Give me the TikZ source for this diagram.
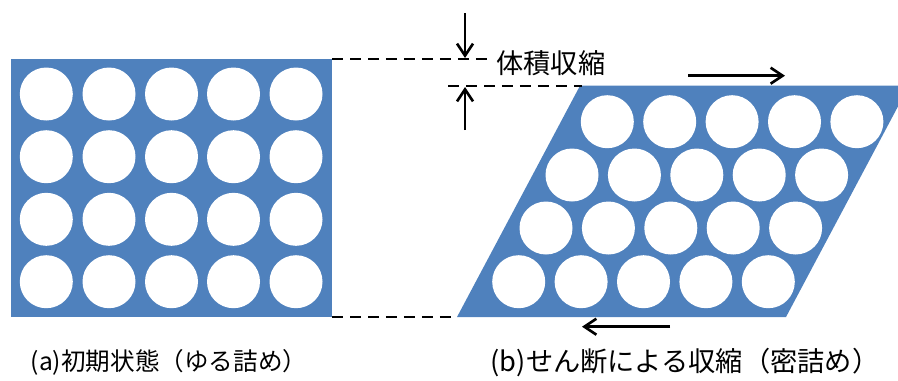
\documentclass[tikz,border=0pt]{standalone}
\usepackage{fontspec}
\setmainfont{Noto Sans CJK JP}
\usetikzlibrary{arrows.meta}
\definecolor{sandblue}{HTML}{4F81BD}
\tikzset{
  grain/.style={fill=white},
  guideline/.style={line width=1.5pt, dash pattern=on 0.22cm off 0.14cm},
  shiftarrow/.style={line width=1.5pt, -{Straight Barb[length=0.24cm,width=0.32cm]}},
  caption/.style={font=\fontsize{14pt}{16pt}\selectfont, inner sep=0pt}
}
\begin{document}
\begin{tikzpicture}[x=0.02cm,y=-0.02cm]
\useasboundingbox (0,0) rectangle (898,380);

% (a) 初期状態：正方配列
\fill[sandblue] (10.5,59) rectangle (332,317); % 試料
\foreach \y in {94,156.7,219.3,281.7}
  \foreach \x in {46.3,109,171.5,233.5,296}
    \fill[grain] (\x,\y) circle (26.5); % 粒子

% (b) せん断後：平行四辺形
\fill[sandblue] (580,85.7) -- (909,85.7) -- (786,317) -- (457,317) -- cycle; % 試料
\foreach \y/\xa in {121.7/607.3, 175/572, 228/546, 281.7/518.7}
  \foreach \i in {0,...,4}
    \fill[grain] (\xa+62.4*\i,\y) circle (26.5); % 粒子

% 寸法線
\coordinate (topL) at (332,59);
\coordinate (topR) at (490,59);
\coordinate (midL) at (448,86);
\coordinate (midR) at (582,86);
\coordinate (botL) at (332,317);
\coordinate (botR) at (457,317);
\draw[guideline] (topL) -- (topR); % 上端（初期）
\draw[guideline] (midL) -- (midR); % 上端（収縮後）
\draw[guideline] (botL) -- (botR); % 下端

% 体積収縮の矢印
\coordinate (downS) at (465,13);
\coordinate (downE) at (465,58);
\coordinate (upS) at (465,130);
\coordinate (upE) at (465,87);
\draw[shiftarrow] (downS) -- (downE);
\draw[shiftarrow] (upS) -- (upE);
\node[caption, font=\fontsize{15.5pt}{18pt}\selectfont, anchor=west] (shrink) at (496,63) {体積収縮};

% せん断の矢印
\coordinate (shearTS) at (688,75.7);
\coordinate (shearTE) at (785,75.7);
\coordinate (shearBS) at (670,326.7);
\coordinate (shearBE) at (582,326.7);
\draw[shiftarrow] (shearTS) -- (shearTE);
\draw[shiftarrow] (shearBS) -- (shearBE);

% 見出し
\node[caption] (capA) at (169,362) {(a)初期状態（ゆる詰め）};
\node[caption, font=\fontsize{15.5pt}{18pt}\selectfont] (capB) at (685,362) {(b)せん断による収縮（密詰め）};

\end{tikzpicture}
\end{document}
